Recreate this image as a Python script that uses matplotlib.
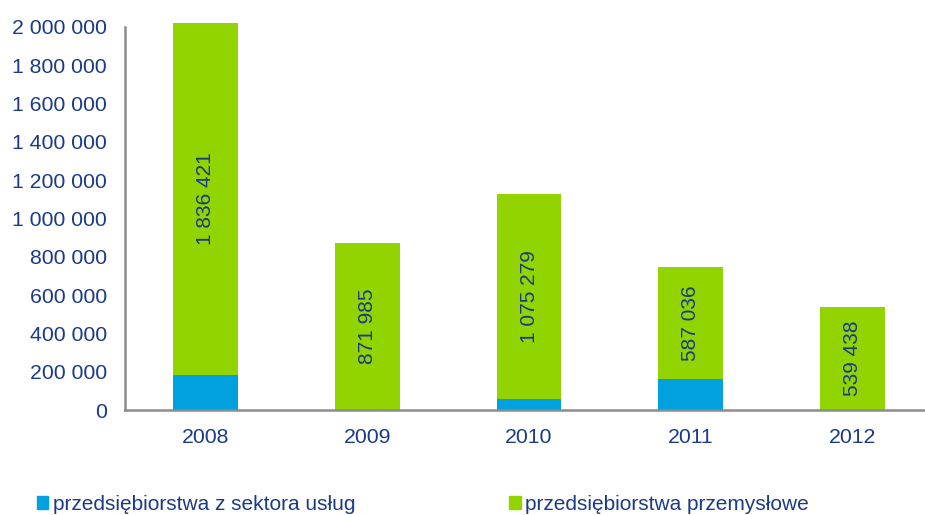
import matplotlib.pyplot as plt
from matplotlib.patches import Patch

# Dane
lata = ["2008", "2009", "2010", "2011", "2012"]
uslugi = [185000, 0, 55000, 160000, 0]
przemyslowe = [1836421, 871985, 1075279, 587036, 539438]
etykiety_przem = ["1 836 421", "871 985", "1 075 279", "587 036", "539 438"]
ticki_y = [0, 200000, 400000, 600000, 800000, 1000000, 1200000, 1400000,
           1600000, 1800000, 2000000]

kolor_uslugi = "#00A1DE"
kolor_przem = "#92D400"
kolor_tekstu = "#1B3A87"
kolor_osi = "#8C8C8C"

plt.rcParams["font.family"] = ["Liberation Sans", "DejaVu Sans"]

fig = plt.figure(figsize=(9.25, 5.15), dpi=100)
ax = fig.add_axes([125 / 925, 1 - 410 / 515, 800 / 925, 383 / 515])

x = range(len(lata))
ax.bar(x, uslugi, width=0.4, color=kolor_uslugi, clip_on=False, zorder=2)
ax.bar(x, przemyslowe, width=0.4, bottom=uslugi, color=kolor_przem,
       clip_on=False, zorder=2)

# Wartości w środku zielonych słupków
for i in x:
    ax.text(i, uslugi[i] + przemyslowe[i] / 2, etykiety_przem[i],
            rotation=90, ha="center", va="center", fontsize=15,
            color=kolor_tekstu, zorder=3)

ax.set_xlim(-0.5, 4.45)
ax.set_ylim(0, 2000000)
ax.set_xticks(list(x))
ax.set_xticklabels(lata)
ax.set_yticks(ticki_y)
ax.set_yticklabels([f"{v:,}".replace(",", " ") for v in ticki_y])
ax.tick_params(length=0, labelsize=15.3, labelcolor=kolor_tekstu)
ax.tick_params(axis="x", pad=13)
ax.tick_params(axis="y", pad=13)

for s in ["top", "right"]:
    ax.spines[s].set_visible(False)
for s in ["left", "bottom"]:
    ax.spines[s].set_color(kolor_osi)
    ax.spines[s].set_linewidth(1.8)

uchwyty = [Patch(color=kolor_uslugi), Patch(color=kolor_przem)]
fig.legend(uchwyty,
           ["przedsiębiorstwa z sektora usług", "przedsiębiorstwa przemysłowe"],
           loc="lower left", bbox_to_anchor=(37 / 925, 0.002), ncol=2,
           frameon=False, fontsize=15, labelcolor=kolor_tekstu,
           handlelength=0.55, handleheight=0.55, handletextpad=0.2,
           columnspacing=7.4, borderpad=0, borderaxespad=0)

fig.savefig("out.png", dpi=100)
